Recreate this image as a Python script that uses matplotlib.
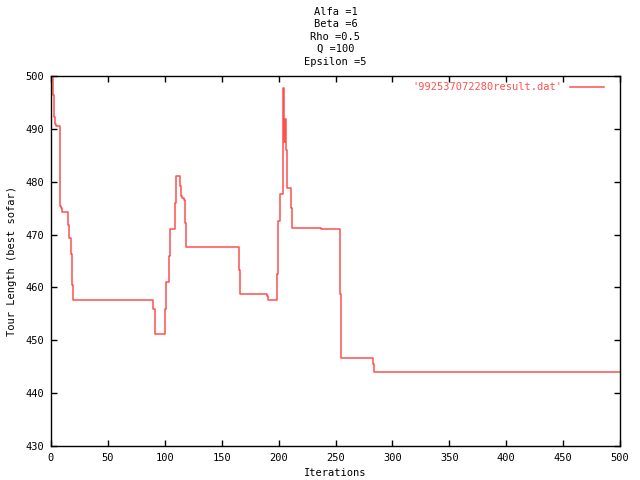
import matplotlib
matplotlib.use('Agg')
import matplotlib.pyplot as plt

# change points of the best-so-far tour length (steps, value held until next point)
iterations = [1, 1.7, 2.3, 3.2, 4.3, 7.6, 8.2, 9.0, 9.7, 15.1, 15.8, 17.6, 18.7, 19.6,
              89.9, 91.4, 99.8, 100.7, 104.0, 104.9, 109.3, 109.8, 113.6, 114.2, 115.1,
              116.5, 118.0, 118.9, 165.2, 166.0, 189.9, 190.8, 198.7, 199.9, 200.8,
              204.3, 205.0, 205.6, 206.2, 207.2, 210.7, 211.5, 237.2, 254.2, 255.0,
              283.3, 284.2, 500]
tour_length = [502, 496.4, 492.2, 491.0, 490.5, 483.0, 475.4, 475.0, 474.2, 471.9, 469.3,
               466.4, 460.5, 457.7, 455.9, 451.2, 455.9, 461.0, 466.0, 471.0, 476.0, 481.1,
               479.2, 477.3, 476.9, 476.5, 472.1, 467.6, 463.3, 458.7, 458.3, 457.6, 462.5,
               472.6, 477.6, 497.7, 487.6, 491.8, 486.0, 478.8, 475.0, 471.2, 471.0, 458.8,
               446.6, 445.5, 444.0, 444.0]

params = ['Alfa =1', 'Beta =6', 'Rho =0.5', 'Q =100', 'Epsilon =5']
xticks = list(range(0, 501, 50))
yticks = list(range(430, 501, 10))

plt.rcParams['font.family'] = 'DejaVu Sans Mono'
plt.rcParams['font.size'] = 7.5

fig = plt.figure(figsize=(6.4, 4.8), dpi=100)
ax = fig.add_axes([51 / 640, 34 / 480, 569 / 640, 370 / 480])

ax.plot(iterations, tour_length, drawstyle='steps-post', color='#ff5050', lw=1.1,
        label="'992537072280result.dat'")

ax.set_xlim(0, 500)
ax.set_ylim(430, 500)
ax.set_xticks(xticks)
ax.set_yticks(yticks)
ax.tick_params(direction='in', length=4, width=1, top=True, right=True, pad=5)
for s in ax.spines.values():
    s.set_linewidth(1)

ax.set_xlabel('Iterations', labelpad=4)
ax.set_ylabel('Tour Length (best sofar)', labelpad=6)

fig.text(335.5 / 640, 1 - 7 / 480, '\n'.join(params), ha='center', va='top',
         linespacing=1.3)

ax.legend(loc='upper right', bbox_to_anchor=(1 - 9 / 569, 1.003), markerfirst=False,
          frameon=False, labelcolor='#ff5050', handlelength=3.2, borderaxespad=0.3,
          handletextpad=0.8)

fig.savefig('out.png', dpi=100)
